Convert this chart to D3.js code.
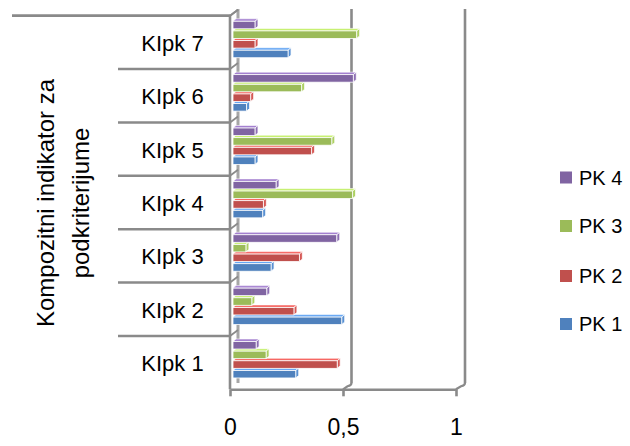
<!DOCTYPE html>
<html><head><meta charset="utf-8">
<script src="https://cdn.jsdelivr.net/npm/d3@7"></script>
<style>html,body{margin:0;padding:0;background:#fff;}svg{display:block;}</style>
</head><body>
<svg id="chart" width="630" height="446"></svg>
<script>
const categories = ["KIpk 1","KIpk 2","KIpk 3","KIpk 4","KIpk 5","KIpk 6","KIpk 7"];
const seriesNames = ["PK 1","PK 2","PK 3","PK 4"];
const seriesColors = ["#4F81BD","#C0504D","#9BBB59","#8064A2"];
const pk1 = [0.277, 0.48, 0.168, 0.131, 0.097, 0.06, 0.243];
const pk2 = [0.46, 0.269, 0.293, 0.134, 0.347, 0.078, 0.097];
const pk3 = [0.146, 0.083, 0.057, 0.528, 0.436, 0.303, 0.546];
const pk4 = [0.102, 0.149, 0.458, 0.19, 0.097, 0.531, 0.097];
const seriesValues = [pk1, pk2, pk3, pk4];
const tickValues = [0, 0.5, 1];
const tickLabels = ["0", "0,5", "1"];
const titleLines = ["Kompozitni indikator za", "podkriterijume"];

const FONT = "'Liberation Sans', Arial, sans-serif";
const GRAY = "#8a8a8a";
const svg = d3.select("#chart");
svg.append("rect").attr("width",630).attr("height",446).attr("fill","#fff");

const yBand = d3.scaleBand().domain(categories.slice().reverse()).range([15.7, 389.3]).padding(0);
const inner = d3.scaleBand().domain(seriesNames.slice().reverse()).range([4.5, 43.1]).paddingInner(0.22).paddingOuter(0.11);
const xFront = d3.scaleLinear().domain([0,1]).range([230, 456]);
const xBar = d3.scaleLinear().domain([0,1]).range([233, 459.5]);
const xBack = d3.scaleLinear().domain([0,1]).range([238, 465]);
const yTopBack = 9, yBottomBack = 383, yFloor = 389.3;

// back wall gridlines
const g = svg.append("g");
[0.5, 1].forEach(v => {
  g.append("line").attr("x1", xBack(v)).attr("x2", xBack(v)).attr("y1", yTopBack).attr("y2", yBottomBack)
    .attr("stroke", GRAY).attr("stroke-width", 2.6);
  g.append("path").attr("d", `M${xFront(v)},${yFloor} L${xBack(v)-4},${yFloor-3} Q${xBack(v)},${yFloor-4} ${xBack(v)},${yBottomBack}`)
    .attr("fill","none").attr("stroke", GRAY).attr("stroke-width", 2.2);
});
// back 0 line
g.append("line").attr("x1", xBack(0)).attr("x2", xBack(0)).attr("y1", yTopBack).attr("y2", yBottomBack)
  .attr("stroke", "#a6a6a6").attr("stroke-width", 3);

// category dividers
const bounds = categories.map(c => yBand(c)).concat([yBand.range()[0]]);
bounds.forEach((yb, i) => {
  const outer = (Math.abs(yb - 15.7) < 0.5 || Math.abs(yb - 389.3) < 0.5);
  g.append("line").attr("x1", outer ? 12 : 118).attr("x2", xFront(0)).attr("y1", yb).attr("y2", yb)
    .attr("stroke", GRAY).attr("stroke-width", 2.6);
  g.append("line").attr("x1", xFront(0)).attr("x2", xBack(0)).attr("y1", yb).attr("y2", yb - 6)
    .attr("stroke", GRAY).attr("stroke-width", 1.8);
});
// y axis vertical
g.append("line").attr("x1", xFront(0)).attr("x2", xFront(0)).attr("y1", 15.7).attr("y2", yFloor)
  .attr("stroke", GRAY).attr("stroke-width", 2.6);

// bars
const bars = svg.append("g");
categories.forEach((c, ci) => {
  seriesNames.forEach((s, si) => {
    const v = seriesValues[si][ci];
    const col = seriesColors[si];
    const y0 = yBand(c) + inner(s), h = inner.bandwidth();
    const x0 = xBar(0), x1 = xBar(v);
    const dx = 3, dy = 2.5;
    bars.append("polygon")
      .attr("points", [[x0,y0],[x0+dx,y0-dy],[x1+dx,y0-dy],[x1,y0]].map(p=>p.join(",")).join(" "))
      .attr("fill", d3.color(col).brighter(0.7)).attr("stroke","#fff").attr("stroke-width",0.6);
    bars.append("polygon")
      .attr("points", [[x1,y0],[x1+dx,y0-dy],[x1+dx,y0+h-dy],[x1,y0+h]].map(p=>p.join(",")).join(" "))
      .attr("fill", d3.color(col).brighter(0.3)).attr("stroke","#fff").attr("stroke-width",0.8);
    bars.append("rect").attr("x", x0).attr("y", y0).attr("width", Math.max(0, x1 - x0)).attr("height", h)
      .attr("fill", col).attr("stroke", "#fff").attr("stroke-width", 0.8);
  });
});

// x axis
const xAxis = d3.axisBottom(xFront).tickValues(tickValues).tickFormat((d,i) => tickLabels[i]).tickSize(7).tickSizeOuter(0).tickPadding(22);
const ax = svg.append("g").attr("transform", `translate(0,${yFloor})`).call(xAxis);
ax.select(".domain").attr("stroke", GRAY).attr("stroke-width", 2.6);
ax.selectAll(".tick line").attr("stroke", GRAY).attr("stroke-width", 2.6);
ax.selectAll(".tick text").attr("font-family", FONT).attr("font-size", 23).attr("fill", "#000");

// category labels
svg.append("g").selectAll("text").data(categories).join("text")
  .attr("x", 172.5).attr("y", d => yBand(d) + yBand.bandwidth()/2 + 8.5)
  .attr("text-anchor","middle").attr("font-family", FONT).attr("font-size", 22).attr("fill","#000")
  .text(d => d);

// axis title
const tg = svg.append("g").attr("transform", "translate(0,203)");
titleLines.forEach((t, i) => {
  tg.append("text").attr("transform", `translate(${i === 0 ? 53.5 : 88.5},0) rotate(-90)`)
    .attr("text-anchor","middle").attr("font-family", FONT).attr("font-size", 24).attr("fill","#000")
    .text(t);
});

// legend
const legendOrder = [3,2,1,0];
const legendY = [177.5, 226, 276, 324];
const lg = svg.append("g");
legendOrder.forEach((si, i) => {
  lg.append("rect").attr("x", 560).attr("y", legendY[i] - 6).attr("width", 12).attr("height", 12)
    .attr("fill", seriesColors[si]);
  lg.append("text").attr("x", 579).attr("y", legendY[i] + 7).attr("font-family", FONT).attr("font-size", 20)
    .attr("fill","#000").text(seriesNames[si]);
});
</script>
</body></html>
